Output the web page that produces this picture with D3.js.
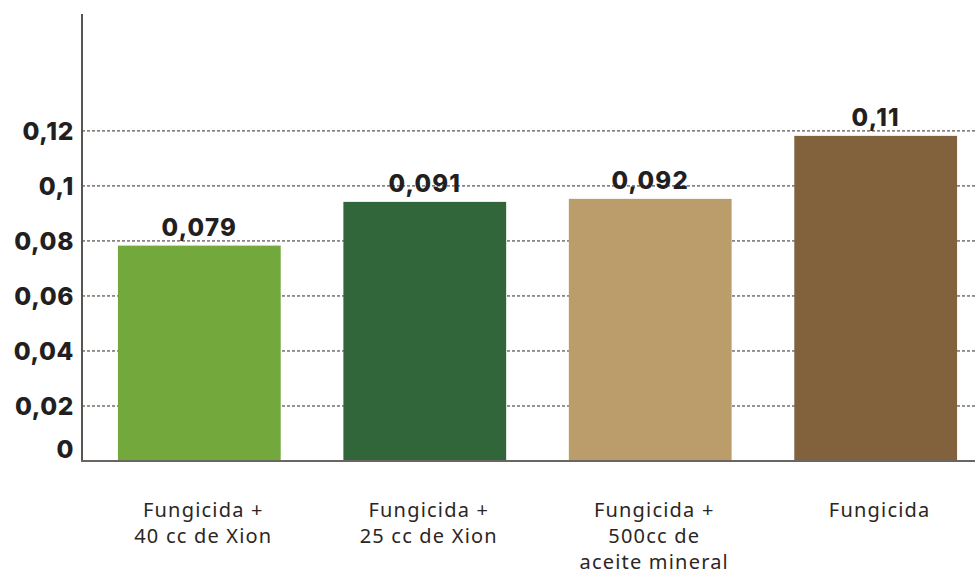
<!DOCTYPE html>
<html>
<head>
<meta charset="utf-8">
<script src="https://cdn.jsdelivr.net/npm/d3@7"></script>
<style>
    body { margin: 0; background: #fff; }
    svg { display: block; }
    .tick-label { font-family: Inter, sans-serif; font-weight: 800; fill: #231f20; }
    .value-label { font-family: Inter, sans-serif; font-weight: 800; fill: #231f20; }
    .cat-label { font-family: "Noto Sans", sans-serif; font-weight: 400; fill: #2b2624; }
</style>
</head>
<body>
<svg></svg>
<script>
//categories, one line of text per entry
var categories = [
    ["Fungicida +", "40 cc de Xion"],
    ["Fungicida +", "25 cc de Xion"],
    ["Fungicida +", "500cc de", "aceite mineral"],
    ["Fungicida"]
];
//bar heights
var values = [0.0783, 0.0942, 0.0953, 0.1182];
//labels printed above the bars
var valueLabels = ["0,079", "0,091", "0,092", "0,11"];
var colors = ["#73a83c", "#31663a", "#ba9d6b", "#82623d"];
//y tick values and their labels
var yTicks = [0, 0.02, 0.04, 0.06, 0.08, 0.1, 0.12];
var yTickLabels = ["0", "0,02", "0,04", "0,06", "0,08", "0,1", "0,12"];

var width = 975;
var height = 575;

var svg = d3.select("svg")
    .attr("width", width)
    .attr("height", height);

//scales
var xScale = d3.scaleBand()
    .domain(d3.range(categories.length))
    .range([86.6, 988.4])
    .paddingInner(0.278)
    .paddingOuter(0.139);

var yScale = d3.scaleLinear()
    .domain([0, 0.1625])
    .range([461, 14]);

//dashed gridlines
svg.selectAll("line.grid")
    .data(yTicks.filter(function(t){ return t > 0; }))
    .enter()
    .append("line")
    .attr("class", "grid")
    .attr("x1", 82)
    .attr("x2", width)
    .attr("y1", function(t){ return yScale(t); })
    .attr("y2", function(t){ return yScale(t); })
    .attr("stroke", "#2e2a28")
    .attr("stroke-width", 1)
    .attr("stroke-dasharray", "3,2");

//bars
svg.selectAll("rect")
    .data(values)
    .enter()
    .append("rect")
    .attr("x", function(d, i){ return xScale(i); })
    .attr("y", function(d){ return yScale(d); })
    .attr("width", xScale.bandwidth())
    .attr("height", function(d){ return yScale(0) - yScale(d); })
    .attr("fill", function(d, i){ return colors[i]; });

//y axis, labels only
var yAxis = d3.axisLeft(yScale)
    .tickValues(yTicks)
    .tickSize(0)
    .tickPadding(8)
    .tickFormat(function(d, i){ return yTickLabels[i]; });

var yAxisG = svg.append("g")
    .attr("transform", "translate(82,0)")
    .call(yAxis);
yAxisG.select(".domain").remove();
yAxisG.selectAll("text")
    .attr("class", "tick-label")
    .attr("font-size", 24.5)
    .attr("letter-spacing", 0.6)
    .attr("dy", function(d){ return d == 0 ? "-0.15em" : "0.36em"; });

//axis lines
svg.append("line")
    .attr("x1", 82).attr("x2", 82)
    .attr("y1", 14).attr("y2", yScale(0) + 1)
    .attr("stroke", "#5a5450")
    .attr("stroke-width", 2);
svg.append("line")
    .attr("x1", 81).attr("x2", width)
    .attr("y1", yScale(0)).attr("y2", yScale(0))
    .attr("stroke", "#6b6561")
    .attr("stroke-width", 2);

//value labels
svg.selectAll("text.value-label")
    .data(values)
    .enter()
    .append("text")
    .attr("class", "value-label")
    .attr("x", function(d, i){ return xScale(i) + xScale.bandwidth() / 2; })
    .attr("y", function(d){ return yScale(d) - 10; })
    .attr("text-anchor", "middle")
    .attr("font-size", 24)
    .attr("letter-spacing", 1.2)
    .text(function(d, i){ return valueLabels[i]; });

//category labels
var catG = svg.selectAll("text.cat-label")
    .data(categories)
    .enter()
    .append("text")
    .attr("class", "cat-label")
    .attr("text-anchor", "middle")
    .attr("font-size", 20)
    .attr("letter-spacing", 1.2)
    .attr("transform", function(d, i){
        return "translate(" + (xScale(i) + xScale.bandwidth() / 2 + 4) + ",517)";
    });

catG.selectAll("tspan")
    .data(function(d){ return d; })
    .enter()
    .append("tspan")
    .attr("x", 0)
    .attr("y", function(d, j){ return j * 26; })
    .text(function(d){ return d; });
</script>
</body>
</html>
